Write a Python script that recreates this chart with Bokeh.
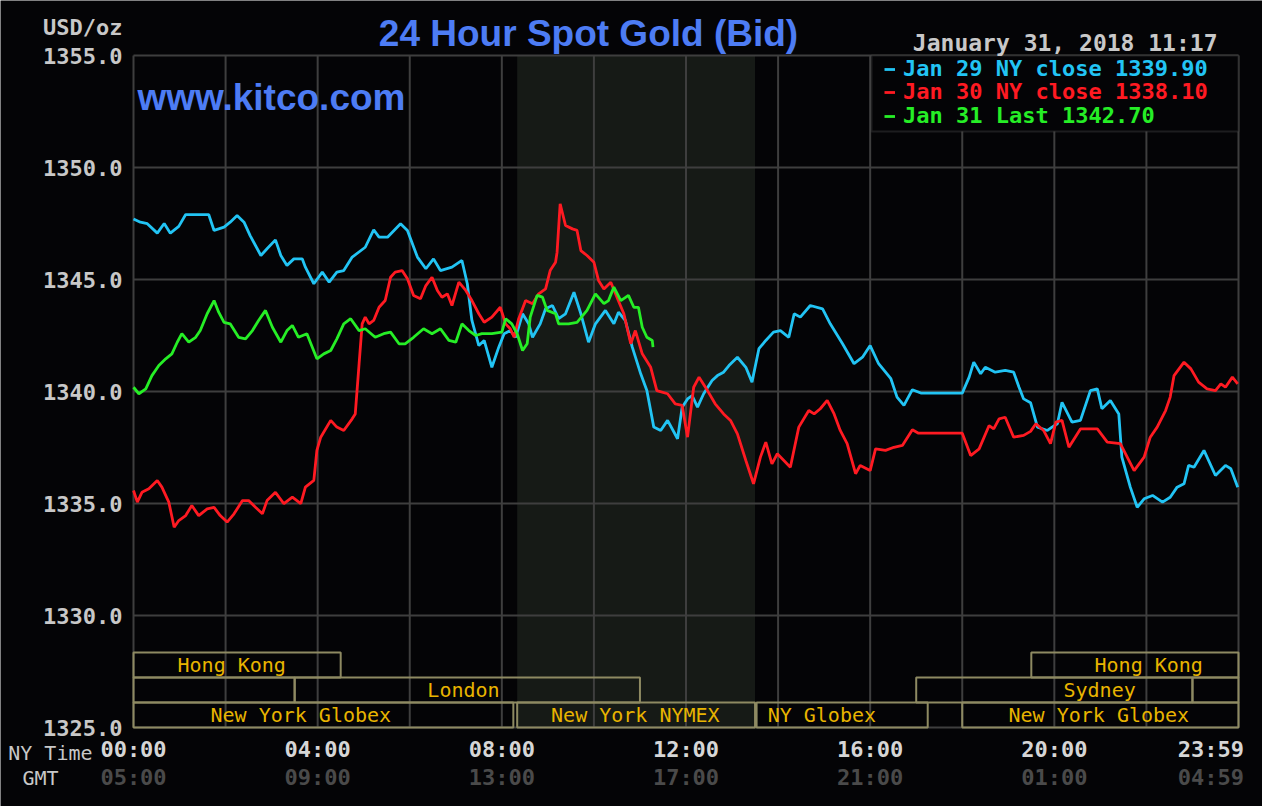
from bokeh.plotting import figure
from bokeh.models import Range1d, Label, Legend, LegendItem, BoxAnnotation, ColumnDataSource
from bokeh.core.properties import value
from bokeh.embed import file_html
from bokeh.resources import INLINE

# ---------------- data ----------------
cyan_t = [0, 9, 18, 31, 40, 48, 59, 68, 83, 98, 105, 118, 126, 135, 144, 152, 166, 174, 185, 192, 200, 209, 220, 224,
          235, 246, 255, 265, 274, 285, 302, 313, 320, 331, 348, 357, 370, 381, 391, 400, 415, 428, 435, 441, 450, 457,
          467, 476, 483, 491, 498, 507, 515, 520, 530, 537, 546, 554, 563, 574, 583, 593, 602, 615, 626, 632, 641, 650,
          661, 669, 678, 687, 696, 709, 715, 722, 728, 735, 743, 754, 761, 769, 776, 787, 798, 806, 815, 824, 834, 843,
          854, 861, 869, 882, 898, 908, 924, 939, 950, 960, 971, 987, 995, 1004, 1015, 1026, 1080, 1089, 1095, 1104,
          1110, 1123, 1136, 1147, 1154, 1160, 1169, 1178, 1191, 1197, 1204, 1210, 1223, 1234, 1247, 1256, 1262, 1273,
          1284, 1288, 1299, 1308, 1317, 1328, 1341, 1351, 1360, 1369, 1375, 1382, 1395, 1410, 1423, 1430, 1439]
cyan_v = [1347.70, 1347.56, 1347.49, 1347.07, 1347.50, 1347.07, 1347.37, 1347.90, 1347.90, 1347.90, 1347.19, 1347.34,
          1347.56, 1347.86, 1347.56, 1346.96, 1346.07, 1346.37, 1346.77, 1346.07, 1345.63, 1345.92, 1345.92, 1345.55,
          1344.81, 1345.33, 1344.88, 1345.33, 1345.40, 1346.00, 1346.44, 1347.22, 1346.89, 1346.89, 1347.49, 1347.19,
          1346.00, 1345.48, 1345.92, 1345.40, 1345.55, 1345.85, 1344.81, 1343.17, 1342.05, 1342.28, 1341.08, 1341.98,
          1342.58, 1342.72, 1342.42, 1343.47, 1343.02, 1342.42, 1343.02, 1343.69, 1343.84, 1343.25, 1343.47, 1344.43,
          1343.47, 1342.20, 1343.02, 1343.62, 1343.02, 1343.54, 1343.17, 1341.98, 1340.79, 1340.04, 1338.41, 1338.26,
          1338.71, 1337.89, 1339.30, 1339.67, 1339.82, 1339.30, 1339.90, 1340.49, 1340.71, 1340.86, 1341.16, 1341.53,
          1341.08, 1340.42, 1341.91, 1342.28, 1342.65, 1342.72, 1342.42, 1343.47, 1343.32, 1343.84, 1343.69, 1343.02,
          1342.13, 1341.24, 1341.53, 1342.05, 1341.24, 1340.57, 1339.75, 1339.38, 1340.08, 1339.93, 1339.93, 1340.64,
          1341.31, 1340.79, 1341.08, 1340.86, 1340.94, 1340.86, 1340.19, 1339.67, 1339.50, 1338.41, 1338.26, 1338.41,
          1338.56, 1339.52, 1338.63, 1338.71, 1340.04, 1340.12, 1339.23, 1339.60, 1339.00, 1337.07, 1335.73, 1334.83,
          1335.21, 1335.36, 1335.06, 1335.28, 1335.73, 1335.88, 1336.70, 1336.62, 1337.37, 1336.25, 1336.70, 1336.55,
          1335.73]

red_t = [0, 5, 11, 20, 31, 37, 46, 53, 59, 68, 76, 85, 96, 105, 113, 122, 131, 142, 150, 159, 168, 174, 185, 196, 207,
         218, 224, 235, 239, 244, 257, 265, 274, 285, 289, 294, 298, 302, 307, 313, 320, 328, 335, 341, 350, 357, 365,
         374, 381, 389, 396, 402, 409, 415, 424, 433, 441, 450, 457, 467, 478, 485, 491, 496, 502, 511, 520, 528, 537,
         543, 550, 552, 556, 563, 572, 578, 583, 591, 600, 606, 613, 622, 630, 639, 648, 654, 663, 674, 682, 696, 706,
         715, 722, 730, 737, 748, 758, 769, 778, 787, 798, 808, 817, 824, 832, 839, 856, 867, 880, 887, 895, 904, 913,
         921, 930, 941, 947, 960, 967, 980, 991, 1002, 1015, 1023, 1080, 1091, 1102, 1115, 1121, 1128, 1136, 1147,
         1160, 1169, 1176, 1186, 1195, 1202, 1210, 1219, 1234, 1256, 1269, 1286, 1295, 1304, 1317, 1325, 1334, 1345,
         1351, 1356, 1369, 1378, 1388, 1399, 1410, 1417, 1423, 1432, 1439]
red_v = [1335.58, 1335.06, 1335.50, 1335.66, 1336.03, 1335.73, 1335.06, 1333.94, 1334.24, 1334.46, 1334.91, 1334.46,
         1334.76, 1334.83, 1334.46, 1334.17, 1334.54, 1335.13, 1335.13, 1334.83, 1334.54, 1335.13, 1335.50, 1334.99,
         1335.28, 1334.99, 1335.73, 1336.03, 1337.37, 1337.96, 1338.71, 1338.41, 1338.26, 1338.78, 1339.00, 1341.24,
         1343.02, 1343.32, 1343.02, 1343.17, 1343.76, 1344.06, 1345.10, 1345.33, 1345.40, 1345.03, 1344.29, 1344.14,
         1344.73, 1345.10, 1344.51, 1344.21, 1344.36, 1343.84, 1344.88, 1344.51, 1344.06, 1343.47, 1343.09, 1343.32,
         1343.76, 1343.02, 1342.80, 1342.42, 1343.25, 1344.06, 1343.92, 1344.36, 1344.58, 1345.40, 1345.77, 1346.22,
         1348.38, 1347.41, 1347.26, 1347.19, 1346.29, 1346.07, 1345.77, 1344.96, 1344.58, 1344.88, 1344.21, 1343.47,
         1342.13, 1342.72, 1341.68, 1341.08, 1340.04, 1339.90, 1339.45, 1339.38, 1337.96, 1340.19, 1340.64, 1340.04,
         1339.45, 1339.00, 1338.71, 1338.11, 1336.92, 1335.88, 1337.07, 1337.74, 1336.77, 1337.22, 1336.62, 1338.41,
         1339.15, 1339.00, 1339.23, 1339.60, 1339.00, 1338.26, 1337.67, 1336.33, 1336.70, 1336.47, 1337.44, 1337.37,
         1337.51, 1337.59, 1338.29, 1338.14, 1338.14, 1337.14, 1337.44, 1338.48, 1338.33, 1338.78, 1338.85, 1337.96,
         1338.04, 1338.22, 1338.56, 1338.26, 1337.67, 1338.63, 1338.71, 1337.51, 1338.33, 1338.33, 1337.74, 1337.67,
         1337.07, 1336.47, 1337.07, 1337.96, 1338.41, 1339.15, 1339.75, 1340.71, 1341.31, 1341.01, 1340.42, 1340.12,
         1340.04, 1340.34, 1340.19, 1340.64, 1340.34]

green_t = [0, 7, 16, 24, 33, 42, 50, 57, 63, 72, 81, 87, 96, 105, 111, 118, 126, 137, 146, 155, 163, 172, 181, 192,
           200, 207, 215, 226, 233, 239, 248, 257, 265, 274, 283, 294, 302, 315, 326, 335, 346, 354, 365, 378, 389, 400,
           411, 420, 428, 437, 446, 454, 467, 480, 485, 493, 500, 507, 513, 517, 526, 533, 539, 550, 554, 567, 578, 591,
           602, 613, 619, 626, 635, 645, 652, 658, 663, 669, 676, 677]
green_v = [1340.19, 1339.90, 1340.12, 1340.71, 1341.16, 1341.46, 1341.68, 1342.20, 1342.58, 1342.20, 1342.42, 1342.72,
           1343.47, 1344.06, 1343.54, 1343.09, 1343.02, 1342.42, 1342.35, 1342.72, 1343.17, 1343.62, 1342.87, 1342.20,
           1342.72, 1342.95, 1342.42, 1342.58, 1341.98, 1341.46, 1341.68, 1341.83, 1342.35, 1343.02, 1343.25, 1342.72,
           1342.80, 1342.42, 1342.58, 1342.65, 1342.13, 1342.13, 1342.42, 1342.80, 1342.58, 1342.80, 1342.28, 1342.20,
           1343.02, 1342.72, 1342.50, 1342.58, 1342.58, 1342.65, 1343.25, 1343.02, 1342.58, 1341.83, 1342.13, 1343.32,
           1344.29, 1344.21, 1343.62, 1343.47, 1343.02, 1343.02, 1343.09, 1343.62, 1344.36, 1343.92, 1344.06, 1344.66,
           1344.06, 1344.29, 1343.76, 1343.76, 1342.87, 1342.42, 1342.28, 1341.98]

series_labels = ["Jan 29 NY close 1339.90", "Jan 30 NY close 1338.10", "Jan 31 Last 1342.70"]

y_ticks = [1325, 1330, 1335, 1340, 1345, 1350, 1355]
y_labels = ["1325.0", "1330.0", "1335.0", "1340.0", "1345.0", "1350.0", "1355.0"]
x_label_pos = [0, 240, 480, 720, 960, 1200, 1404]
ny_labels = ["00:00", "04:00", "08:00", "12:00", "16:00", "20:00", "23:59"]
gmt_labels = ["05:00", "09:00", "13:00", "17:00", "21:00", "01:00", "04:59"]
x_grid = [0, 120, 240, 360, 480, 600, 720, 840, 960, 1080, 1200, 1320, 1440]

# NYMEX trading hours (shaded), minutes after midnight NY time
nymex_start, nymex_end = 500, 810

# market sessions: lane 0 = bottom row, 2 = top row
sess_name = ["Hong Kong", "Hong Kong", "", "London", "Sydney", "",
             "New York Globex", "New York NYMEX", "NY Globex", "New York Globex"]
sess_start = [0, 1170, 0, 210, 1020, 1380, 0, 500, 812, 1080]
sess_end = [270, 1440, 210, 660, 1380, 1440, 495, 810, 1035, 1440]
sess_lane = [2, 2, 1, 1, 1, 1, 0, 0, 0, 0]
sess_label_at = [128, 1323, 105, 430, 1259, 1410, 218, 654, 897, 1258]

# ---------------- layout / style ----------------
W, H = 1262, 806
PL, PR, PT, PB = 133, 1238, 55, 727          # chart area inside the canvas (px)
LANE_PX = 25
BG = "#040406"
GRID = "#3e3e3e"
SHADE = "#161a16"
CYAN, RED, GREEN = "#22c4f4", "#ff1a22", "#26ee26"
MONO = "DejaVu Sans Mono"
SANS = "Liberation Sans"

x0, x1 = x_grid[0], x_grid[-1]
y0, y1 = y_ticks[0], y_ticks[-1]
mpp = (x1 - x0) / (PR - PL)      # minutes per pixel
vpp = (y1 - y0) / (PB - PT)      # price per pixel

p = figure(width=W, height=H,
           x_range=Range1d(x0 - PL * mpp, x1 + (W - PR) * mpp),
           y_range=Range1d(y0 - (H - PB) * vpp, y1 + PT * vpp),
           output_backend="svg", toolbar_location=None, x_axis_type=None, y_axis_type=None,
           background_fill_color=BG, border_fill_color=BG, outline_line_color=None,
           min_border=0)
p.xgrid.visible = False
p.ygrid.visible = False
p.extra_y_ranges = {"lanes": Range1d(-(H - PB) / LANE_PX, PB / LANE_PX)}

# shaded NYMEX period
p.quad(left=[nymex_start], right=[nymex_end], bottom=[y0], top=[y1],
       fill_color=SHADE, line_color=None, level="image")

# grid lines
p.segment(x0=x_grid, x1=x_grid, y0=[y0] * len(x_grid), y1=[y1] * len(x_grid),
          line_color=GRID, line_width=2, level="underlay")
p.segment(x0=[x0] * len(y_ticks), x1=[x1] * len(y_ticks), y0=y_ticks, y1=y_ticks,
          line_color=GRID, line_width=2, level="underlay")

# tick labels
p.text(x=[x0] * len(y_ticks), y=y_ticks, text=y_labels, x_offset=-11,
       text_font=value(MONO), text_font_size="22px", text_font_style="bold", text_color="#c8c8c8",
       text_align="right", text_baseline="middle")
p.text(x=x_label_pos, y=[y0] * len(x_label_pos), text=ny_labels, y_offset=22,
       text_font=value(MONO), text_font_size="22px", text_font_style="bold", text_color="#d6d6d6",
       text_align="center", text_baseline="middle")
p.text(x=x_label_pos, y=[y0] * len(x_label_pos), text=gmt_labels, y_offset=50,
       text_font=value(MONO), text_font_size="22px", text_font_style="bold", text_color="#4a4a4a",
       text_align="center", text_baseline="middle")

# session boxes
sess = ColumnDataSource(dict(name=sess_name, start=sess_start, end=sess_end,
                             lo=sess_lane, hi=[l + 1 for l in sess_lane],
                             mid=[l + 0.5 for l in sess_lane], at=sess_label_at))
p.quad(left="start", right="end", bottom="lo", top="hi", source=sess, y_range_name="lanes",
       fill_alpha=0, line_color="#8e8a62", line_width=2)
p.text(x="at", y="mid", text="name", source=sess, y_range_name="lanes",
       text_font=value(MONO), text_font_size="20px", text_color="#e8b400",
       text_align="center", text_baseline="middle")

# price lines
r_c = p.line(cyan_t, cyan_v, line_color=CYAN, line_width=2.8)
r_r = p.line(red_t, red_v, line_color=RED, line_width=2.8)
r_g = p.line(green_t, green_v, line_color=GREEN, line_width=2.8)

# legend box + three single-item legends (each in its own colour)
p.add_layout(BoxAnnotation(left=871, right=PR, bottom=H - 131, top=H - PT,
                           left_units="screen", right_units="screen", bottom_units="screen", top_units="screen",
                           fill_color=BG, fill_alpha=1, line_color="#5a5a5a", line_width=2))
for lab, rend, col, vy in zip(series_labels, (r_c, r_r, r_g), (CYAN, RED, GREEN), (H - 81, H - 104, H - 128)):
    lg = Legend(items=[LegendItem(label=lab, renderers=[rend])], location=(884, vy),
                background_fill_alpha=0, border_line_color=None, padding=0, margin=0, spacing=0,
                glyph_width=11, glyph_height=20, label_height=20, label_standoff=8,
                label_text_font=MONO, label_text_font_size="22px", label_text_font_style="bold",
                label_text_color=col)
    p.add_layout(lg, "center")

# free texts
def lab(text, x, y, size, color, font=MONO, style="normal", align="left"):
    p.add_layout(Label(x=x, y=H - y, x_units="screen", y_units="screen", text=text,
                       text_font=font, text_font_size=size, text_font_style=style,
                       text_color=color, text_align=align, text_baseline="middle"))

lab("24 Hour Spot Gold (Bid)", 588, 33, "37px", "#4d7cf4", font=SANS, style="bold", align="center")
lab("www.kitco.com", 137, 97, "37px", "#4d7cf4", font=SANS, style="bold")
lab("January 31, 2018 11:17", 1217, 42, "23px", "#c8c8c8", style="bold", align="right")
lab("USD/oz", 122, 27, "22px", "#c8c8c8", style="bold", align="right")
lab("NY Time", 92, 752, "20px", "#c8c8c8", align="right")
lab("GMT", 40, 777, "20px", "#c8c8c8", align="center")

open("out.html", "w").write(file_html(p, INLINE))
